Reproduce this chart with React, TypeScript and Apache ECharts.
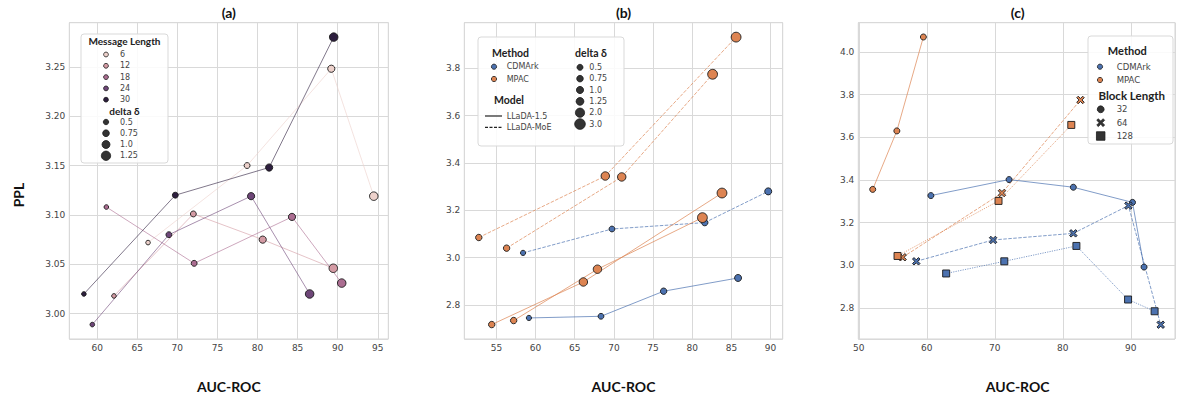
import React, { useEffect, useRef } from 'react';
import * as echarts from 'echarts';

// ---------------- Panel (a) data ----------------
const aMessageLengths = [6, 12, 18, 24, 30];
const aDeltas = [0.5, 0.75, 1.0, 1.25];
const aAuc = [
  [66.35, 78.7, 89.2, 94.5],
  [62.1, 72.0, 80.65, 89.45],
  [61.15, 72.1, 84.3, 90.5],
  [59.4, 68.95, 79.2, 86.5],
  [58.35, 69.75, 81.45, 89.5],
];
const aPpl = [
  [3.072, 3.15, 3.248, 3.119],
  [3.018, 3.101, 3.075, 3.046],
  [3.108, 3.051, 3.098, 3.031],
  [2.989, 3.08, 3.119, 3.02],
  [3.02, 3.12, 3.148, 3.28],
];

// ---------------- Panel (b) data ----------------
const bMethods = ['CDMArk', 'MPAC'];
const bModels = ['LLaDA-1.5', 'LLaDA-MoE'];
const bDeltaLevels = [0.5, 0.75, 1.0, 1.25, 2.0, 3.0];
const bCdmDeltas = [0.5, 0.75, 1.0, 1.25];
const bMpacDeltas = [1.0, 2.0, 3.0];
const bCdm15Auc = [59.15, 68.35, 76.35, 85.85];
const bCdm15Ppl = [2.745, 2.752, 2.858, 2.914];
const bCdmMoeAuc = [58.4, 69.75, 81.6, 89.7];
const bCdmMoePpl = [3.02, 3.121, 3.148, 3.28];
const bMpac15AucA = [54.4, 66.1, 83.8];
const bMpac15PplA = [2.717, 2.897, 3.273];
const bMpac15AucB = [57.2, 67.9, 81.3];
const bMpac15PplB = [2.734, 2.951, 3.169];
const bMpacMoeAucA = [52.75, 68.9, 85.6];
const bMpacMoePplA = [3.085, 3.345, 3.932];
const bMpacMoeAucB = [56.3, 71.0, 82.6];
const bMpacMoePplB = [3.04, 3.341, 3.775];

// ---------------- Panel (c) data ----------------
const cMethods = ['CDMArk', 'MPAC'];
const cBlockLengths = [32, 64, 128];
const cCdm32Auc = [60.6, 72.1, 81.55, 90.25, 91.95];
const cCdm32Ppl = [3.327, 3.402, 3.366, 3.295, 2.992];
const cCdm64Auc = [58.45, 69.75, 81.55, 89.65, 94.4];
const cCdm64Ppl = [3.019, 3.119, 3.15, 3.28, 2.722];
const cCdm128Auc = [62.85, 71.4, 82.0, 89.6, 93.5];
const cCdm128Ppl = [2.962, 3.019, 3.091, 2.84, 2.785];
const cMpac32Auc = [52.05, 55.6, 59.5];
const cMpac32Ppl = [3.356, 3.63, 4.07];
const cMpac64Auc = [56.45, 71.05, 82.6];
const cMpac64Ppl = [3.038, 3.339, 3.775];
const cMpac128Auc = [55.7, 70.55, 81.25];
const cMpac128Ppl = [3.044, 3.302, 3.658];

const panelTitles = ['(a)', '(b)', '(c)'];
const xAxisTitle = 'AUC-ROC';
const yAxisTitle = 'PPL';

// ---------------- styles ----------------
const aColors = ['#edd1cb', '#d49ba4', '#ab6d91', '#6e4678', '#2d1e3e'];
const aSizes = [4.6, 5.9, 7.2, 8.5];
const bSizes = [5.2, 5.8, 6.4, 7.0, 8.4, 9.8];
const methodColors = ['#4c72b0', '#dd8452'];
const X_PATH = 'path://M0,2L2,0L5,3L8,0L10,2L7,5L10,8L8,10L5,7L2,10L0,8L3,5Z';
const cSymbols = ['circle', X_PATH, 'rect'];
const cSizes = [6, 7.5, 7];
const cDashes: any[] = ['solid', [3.5, 1.5], [1.2, 1.2]];
const DASHED = [3.5, 1.5];

const FONT_TICK = '"DejaVu Sans", sans-serif';
const FONT_TITLE = 'Lato, "Noto Sans", sans-serif';
const EDGE = '#1a1a1a';

const grids = [
  { left: 69.3, top: 22.7, width: 319, height: 316.3 },
  { left: 464.3, top: 22.7, width: 318.4, height: 316.3 },
  { left: 858.3, top: 22.7, width: 318.7, height: 316.3 },
];

const isMultiple = (v: number, step: number) => Math.abs(v / step - Math.round(v / step)) < 1e-6;

function valueAxis(gridIndex: number, min: number, max: number, splitNumber: number, step: number, decimals: number) {
  return {
    type: 'value',
    gridIndex,
    min,
    max,
    splitNumber,
    axisLine: { show: false },
    axisTick: { show: false },
    splitLine: { show: true, lineStyle: { color: '#d9d9d9', width: 1 } },
    axisLabel: {
      fontFamily: FONT_TICK,
      fontSize: 9,
      color: '#444',
      margin: 4,
      formatter: (v: number) => (isMultiple(v, step) ? v.toFixed(decimals) : ''),
    },
  };
}

function lineSeries(idx: number, xs: number[], ys: number[], color: string, type: any, opacity: number) {
  return {
    type: 'line',
    xAxisIndex: idx,
    yAxisIndex: idx,
    data: xs.map((x, i) => [x, ys[i]]),
    symbol: 'none',
    silent: true,
    z: 2,
    lineStyle: { color, width: 1, type, opacity },
  };
}

function scatterSeries(idx: number, data: number[][], color: string, symbol: string, size: any) {
  return {
    type: 'scatter',
    xAxisIndex: idx,
    yAxisIndex: idx,
    data,
    symbol,
    symbolSize: size,
    z: 3,
    itemStyle: { color, borderColor: EDGE, borderWidth: 0.9, opacity: 1 },
  };
}

const fmtDelta = (d: number) => (Number.isInteger(d) ? d.toFixed(1) : String(d));

// ---------- legend helpers ----------
const gBox = (x: number, y: number, w: number, h: number) => ({
  type: 'rect', z: 99, shape: { x, y, width: w, height: h, r: 3 },
  style: { fill: 'rgba(255,255,255,0.85)', stroke: '#d9d9d9', lineWidth: 1 },
});
const gTitle = (x: number, y: number, text: string, size: number) => ({
  type: 'text', z: 100, x, y,
  style: { text, font: `bold ${size}px ${FONT_TITLE}`, fill: '#222', align: 'center', verticalAlign: 'middle' },
});
const gLabel = (x: number, y: number, text: string, size = 8) => ({
  type: 'text', z: 100, x, y,
  style: { text, font: `${size}px ${FONT_TICK}`, fill: '#444', align: 'left', verticalAlign: 'middle' },
});
const gCircle = (cx: number, cy: number, r: number, fill: string) => ({
  type: 'circle', z: 100, shape: { cx, cy, r },
  style: { fill, stroke: EDGE, lineWidth: 0.8 },
});
const gSquare = (cx: number, cy: number, s: number, fill: string) => ({
  type: 'rect', z: 100, shape: { x: cx - s / 2, y: cy - s / 2, width: s, height: s },
  style: { fill, stroke: EDGE, lineWidth: 0.8 },
});
const X_PTS = [[0, 2], [2, 0], [5, 3], [8, 0], [10, 2], [7, 5], [10, 8], [8, 10], [5, 7], [2, 10], [0, 8], [3, 5]];
const gX = (cx: number, cy: number, s: number, fill: string) => ({
  type: 'polygon', z: 100,
  shape: { points: X_PTS.map(([px, py]) => [cx - s / 2 + (px * s) / 10, cy - s / 2 + (py * s) / 10]) },
  style: { fill, stroke: EDGE, lineWidth: 0.6 },
});
const gLine = (x1: number, x2: number, y: number, dash: any) => ({
  type: 'line', z: 100, shape: { x1, y1: y, x2, y2: y },
  style: { stroke: '#222', lineWidth: 1.2, lineDash: dash },
});

function buildOption() {
  const series: any[] = [];

  // Panel (a)
  aMessageLengths.forEach((_, i) => {
    series.push(lineSeries(0, aAuc[i], aPpl[i], aColors[i], 'solid', 0.6));
  });
  aMessageLengths.forEach((_, i) => {
    const data = aAuc[i].map((x, j) => [x, aPpl[i][j], aDeltas[j]]);
    series.push(scatterSeries(0, data, aColors[i], 'circle', (v: number[]) => aSizes[aDeltas.indexOf(v[2])]));
  });

  // Panel (b)
  const bSize = (v: number[]) => bSizes[bDeltaLevels.indexOf(v[2])];
  const bGroups = [
    { m: 0, dash: 'solid', xs: bCdm15Auc, ys: bCdm15Ppl, ds: bCdmDeltas },
    { m: 0, dash: DASHED, xs: bCdmMoeAuc, ys: bCdmMoePpl, ds: bCdmDeltas },
    { m: 1, dash: 'solid', xs: bMpac15AucA, ys: bMpac15PplA, ds: bMpacDeltas },
    { m: 1, dash: 'solid', xs: bMpac15AucB, ys: bMpac15PplB, ds: bMpacDeltas },
    { m: 1, dash: DASHED, xs: bMpacMoeAucA, ys: bMpacMoePplA, ds: bMpacDeltas },
    { m: 1, dash: DASHED, xs: bMpacMoeAucB, ys: bMpacMoePplB, ds: bMpacDeltas },
  ];
  bGroups.forEach((g) => series.push(lineSeries(1, g.xs, g.ys, methodColors[g.m], g.dash, 0.7)));
  bGroups.forEach((g) => {
    const data = g.xs.map((x, j) => [x, g.ys[j], g.ds[j]]);
    series.push(scatterSeries(1, data, methodColors[g.m], 'circle', bSize));
  });

  // Panel (c)
  const cGroups = [
    { m: 0, b: 0, xs: cCdm32Auc, ys: cCdm32Ppl },
    { m: 0, b: 1, xs: cCdm64Auc, ys: cCdm64Ppl },
    { m: 0, b: 2, xs: cCdm128Auc, ys: cCdm128Ppl },
    { m: 1, b: 0, xs: cMpac32Auc, ys: cMpac32Ppl },
    { m: 1, b: 1, xs: cMpac64Auc, ys: cMpac64Ppl },
    { m: 1, b: 2, xs: cMpac128Auc, ys: cMpac128Ppl },
  ];
  cGroups.forEach((g) => series.push(lineSeries(2, g.xs, g.ys, methodColors[g.m], cDashes[g.b], 0.7)));
  cGroups.forEach((g) => {
    const data = g.xs.map((x, j) => [x, g.ys[j]]);
    series.push(scatterSeries(2, data, methodColors[g.m], cSymbols[g.b], cSizes[g.b]));
  });

  // ---------- graphics: titles + legends ----------
  const graphic: any[] = [];
  grids.forEach((gr, i) => {
    const cx = gr.left + gr.width / 2;
    graphic.push({
      type: 'text', z: 100, x: cx, y: 12,
      style: { text: panelTitles[i], font: `bold 14px ${FONT_TITLE}`, fill: '#111', align: 'center', verticalAlign: 'middle' },
    });
    graphic.push({
      type: 'text', z: 100, x: cx, y: 386,
      style: { text: xAxisTitle, font: `bold 14px ${FONT_TITLE}`, fill: '#111', align: 'center', verticalAlign: 'middle' },
    });
  });
  graphic.push({
    type: 'text', z: 100, x: 18, y: 195, rotation: Math.PI / 2,
    style: { text: yAxisTitle, font: `bold 14px ${FONT_TITLE}`, fill: '#111', align: 'center', verticalAlign: 'middle' },
  });

  // legend (a)
  graphic.push(gBox(81, 34, 87, 129));
  graphic.push(gTitle(124.5, 40.7, 'Message Length', 10));
  aMessageLengths.forEach((m, i) => {
    const y = 54.5 + 11.3 * i;
    graphic.push(gCircle(106, y, 2.4, aColors[i]));
    graphic.push(gLabel(120, y, String(m)));
  });
  graphic.push(gTitle(124.5, 110.7, 'delta δ', 10));
  aDeltas.forEach((d, i) => {
    const y = 122 + 11.25 * i;
    graphic.push(gCircle(106, y, aSizes[i] / 2 + 0.4, '#333'));
    graphic.push(gLabel(120, y, fmtDelta(d)));
  });

  // legend (b)
  graphic.push(gBox(478, 37, 146, 109));
  graphic.push(gTitle(510.5, 52.7, 'Method', 10.5));
  bMethods.forEach((m, i) => {
    const y = 66.7 + 12.3 * i;
    graphic.push(gCircle(494, y, 2.6, methodColors[i]));
    graphic.push(gLabel(506.7, y, m));
  });
  graphic.push(gTitle(509, 100, 'Model', 10.5));
  bModels.forEach((m, i) => {
    const y = 116 + 11.3 * i;
    graphic.push(gLine(485, 502, y, i === 0 ? null : [3, 1.5]));
    graphic.push(gLabel(506.7, y, m));
  });
  graphic.push(gTitle(591, 52.7, 'delta δ', 10.5));
  bDeltaLevels.forEach((d, i) => {
    const y = 67.3 + 11.35 * i;
    graphic.push(gCircle(580, y, bSizes[i] / 2 + 0.4, '#333'));
    graphic.push(gLabel(589.3, y, fmtDelta(d)));
  });

  // legend (c)
  graphic.push(gBox(1088, 36, 85, 108));
  graphic.push(gTitle(1127.3, 50, 'Method', 11));
  cMethods.forEach((m, i) => {
    const y = 66.7 + 13.3 * i;
    graphic.push(gCircle(1100, y, 2.6, methodColors[i]));
    graphic.push(gLabel(1116.7, y, m, 8.5));
  });
  graphic.push(gTitle(1131.7, 95, 'Block Length', 11.5));
  cBlockLengths.forEach((b, i) => {
    const y = 109.3 + 13.35 * i;
    if (i === 0) graphic.push(gCircle(1100.7, y, 3.4, '#333'));
    else if (i === 1) graphic.push(gX(1100.7, y, 8, '#333'));
    else graphic.push(gSquare(1100.7, y, 8.5, '#333'));
    graphic.push(gLabel(1116.7, y, String(b), 8.5));
  });

  return {
    animation: false,
    backgroundColor: '#ffffff',
    grid: grids.map((g) => ({ ...g, show: true, borderColor: '#d4d4d4', borderWidth: 1, containLabel: false })),
    xAxis: [
      valueAxis(0, 56.53, 96.31, 8, 5, 0),
      valueAxis(1, 50.9, 91.55, 8, 5, 0),
      valueAxis(2, 49.93, 96.5, 5, 10, 0),
    ],
    yAxis: [
      valueAxis(0, 2.9744, 3.2946, 6, 0.05, 2),
      valueAxis(1, 2.656, 3.993, 6, 0.2, 1),
      valueAxis(2, 2.655, 4.137, 7, 0.2, 1),
    ],
    series,
    graphic,
  };
}

export default function App() {
  const ref = useRef<HTMLDivElement>(null);
  useEffect(() => {
    if (!ref.current) return;
    const chart = echarts.init(ref.current, undefined, { renderer: 'svg' });
    chart.setOption(buildOption() as any);
    return () => chart.dispose();
  }, []);
  return (
    <div
      ref={ref}
      style={{ position: 'absolute', left: 0, top: 0, width: 1178, height: 406, background: '#fff' }}
    />
  );
}
